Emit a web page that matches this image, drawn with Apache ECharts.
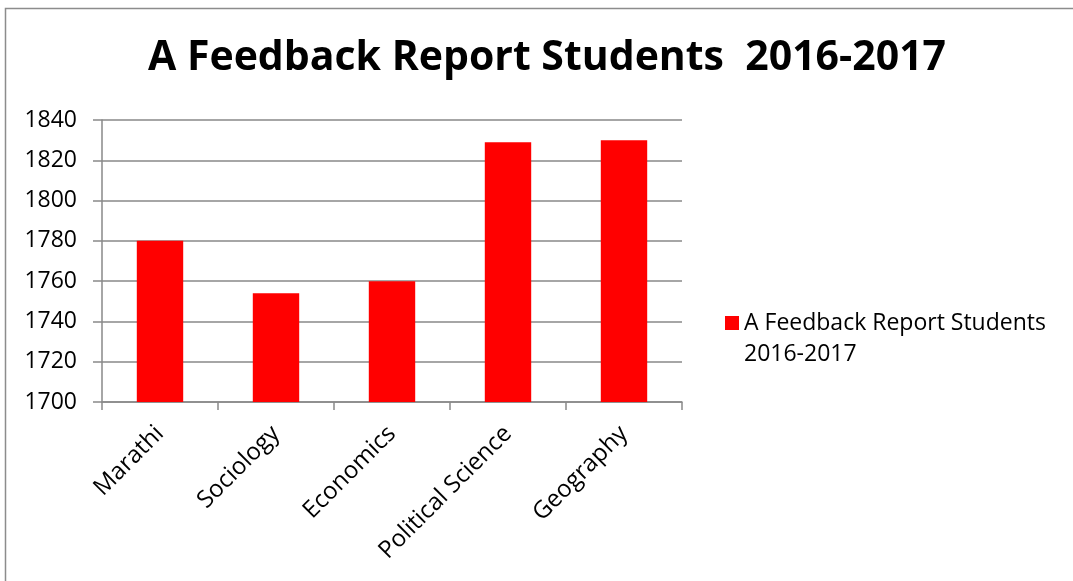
<!DOCTYPE html>
<html>
<head>
<meta charset="utf-8">
<script src="https://cdn.jsdelivr.net/npm/echarts@6/dist/echarts.min.js"></script>
<style>
  html, body { margin: 0; padding: 0; background: #fff; }
  #main { width: 1073px; height: 581px; }
</style>
</head>
<body>
<div id="main"></div>
<script>
var subjects = ["Marathi", "Sociology", "Economics", "Political Science", "Geography"];
var studentCounts = [1780, 1754, 1760, 1829, 1830];
var seriesName = "A Feedback Report Students 2016-2017";
var titleText = "A Feedback Report Students  2016-2017";

var fontName = '"Open Sans", "Liberation Sans", sans-serif';
var myChart = echarts.init(document.getElementById("main"));

var option = {
    backgroundColor: '#fff',
    animation: false,
    graphic: [{
        type: 'rect',
        shape: { x: 5.5, y: 8.5, width: 1200, height: 700 },
        style: { fill: 'none', stroke: '#8c8c8c', lineWidth: 1.5 },
        silent: true
    }],
    title: {
        text: titleText,
        left: 542,
        textAlign: 'center',
        top: 33,
        textStyle: {
            fontFamily: fontName,
            fontWeight: 'bold',
            fontSize: 41,
            color: '#000'
        }
    },
    legend: {
        orient: 'vertical',
        left: 720,
        top: 303,
        itemWidth: 14,
        itemHeight: 46,
        itemGap: 8,
        // square sits beside the first line of the two-line legend text
        icon: 'path://M0,0h14v14h-14z M0,46h0.01v0.01h-0.01z',
        data: [seriesName],
        formatter: function (name) {
            return name.replace(" 2016", "\n2016");
        },
        textStyle: {
            fontFamily: fontName,
            fontSize: 23,
            color: '#000',
            lineHeight: 31
        }
    },
    grid: {
        left: 102,
        right: 391,
        top: 120,
        bottom: 179
    },
    xAxis: {
        type: 'category',
        data: subjects,
        axisLine: { lineStyle: { color: '#898989', width: 1.5 } },
        axisTick: { show: true, length: 8, lineStyle: { color: '#898989', width: 1.5 } },
        axisLabel: {
            rotate: 45,
            margin: 28,
            fontFamily: fontName,
            fontSize: 24,
            color: '#000'
        }
    },
    yAxis: {
        type: 'value',
        min: 1700,
        max: 1840,
        interval: 20,
        axisLine: { show: true, lineStyle: { color: '#898989', width: 1.5 } },
        axisTick: { show: true, length: 9, lineStyle: { color: '#898989', width: 1.5 } },
        splitLine: { lineStyle: { color: '#898989', width: 1.5 } },
        axisLabel: {
            margin: 25,
            fontFamily: fontName,
            fontSize: 23,
            color: '#000',
            formatter: function (v) { return String(v); }
        }
    },
    series: [{
        name: seriesName,
        type: 'bar',
        barWidth: '40%',
        itemStyle: { color: '#ff0000' },
        data: studentCounts
    }]
};
myChart.setOption(option);
</script>
</body>
</html>
